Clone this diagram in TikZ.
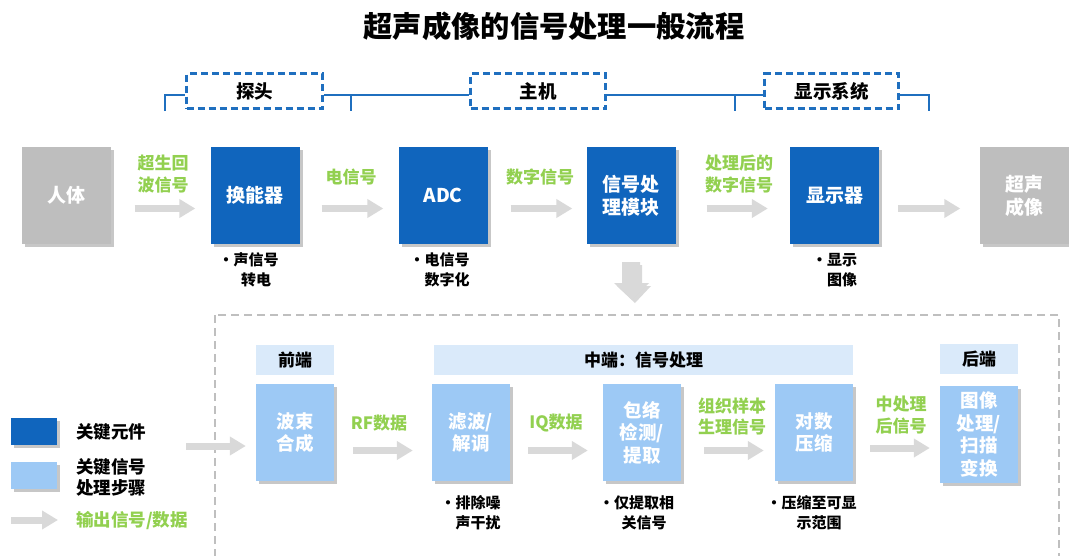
\documentclass[tikz,border=0pt]{standalone}
\usepackage{fontspec}
\setmainfont{Noto Sans CJK SC}
\usetikzlibrary{arrows.meta,shadows}
\definecolor{dkblue}{RGB}{16,101,189}
\definecolor{ltblue}{RGB}{157,201,245}
\definecolor{bandblue}{RGB}{218,234,250}
\definecolor{boxgray}{RGB}{190,190,190}
\definecolor{sgreen}{RGB}{146,208,80}
\definecolor{agray}{RGB}{217,217,217}
\definecolor{rgray}{RGB}{191,191,191}
\definecolor{brblue}{RGB}{31,111,191}
\newcommand{\fs}[2]{\fontsize{#1}{#2}\selectfont}
\tikzset{
  x=1pt, y=-1pt,
  shd/.style={drop shadow={shadow xshift=3pt, shadow yshift=-3pt, fill=black, opacity=0.22}},
  dkbox/.style={shd, fill=dkblue, minimum width=89pt, minimum height=97pt, text=white, align=center, inner sep=0pt, font=\bfseries\fs{19}{23}},
  gybox/.style={dkbox, fill=boxgray},
  ltbox/.style={shd, fill=ltblue, minimum width=78pt, minimum height=97pt, text=white, align=center, inner sep=0pt, font=\bfseries\fs{18.5}{22.5}},
  band/.style={fill=bandblue, minimum height=30pt, inner sep=0pt, font=\bfseries\fs{17}{21}},
  glabel/.style={text=sgreen, align=center, inner sep=0pt, font=\bfseries\fs{17}{21.5}},
  desc/.style={align=center, inner sep=0pt, font=\bfseries\fs{15}{20}},
  dlabel/.style={draw=brblue, line width=2.5pt, dash pattern=on 7pt off 4pt, minimum height=35pt, inner sep=0pt, font=\bfseries\fs{18.5}{22}},
  bracket/.style={draw=brblue, line width=2pt},
  garrow/.style={draw=agray, line width=7pt, -{Triangle[length=16pt,width=18pt]}},
  legtext/.style={anchor=west, align=left, inner sep=0pt, font=\bfseries\fs{17.5}{21}},
}
\begin{document}
\begin{tikzpicture}
\useasboundingbox (0,0) rectangle (1069,555);

% title
\node[inner sep=0pt, font=\bfseries\fs{29.3}{34}] (title) at (554,26) {超声成像的信号处理一般流程};

% dashed group labels
\node[dlabel, minimum width=136pt] (tantou) at (254.5,91) {探头};
\node[dlabel, minimum width=135pt] (zhuji) at (538,91) {主机};
\node[dlabel, minimum width=134pt] (xsxt) at (831.5,91) {显示系统};

% brackets
\draw[bracket] (165,111) |- ([yshift=-4pt]tantou.west);
\draw[bracket] ([yshift=-4pt]tantou.east) -- ([yshift=-4pt]zhuji.west);
\draw[bracket] (351,95) -- (351,111);
\draw[bracket] ([yshift=-4pt]zhuji.east) -- ([yshift=-4pt]xsxt.west);
\draw[bracket] (735,95) -- (735,111);
\draw[bracket] ([yshift=-4pt]xsxt.east) -| (929,111);

% top row
\node[gybox] (renti) at (66,195.5) {人体};
\node[dkbox] (hnq) at (255,195.5) {换能器};
\node[dkbox] (adc) at (443,195.5) {ADC};
\node[dkbox] (xhcl) at (631,195.5) {信号处\\理模块};
\node[dkbox] (xsq) at (834.5,195.5) {显示器};
\node[gybox] (cscx) at (1024,195.5) {超声\\成像};

\draw[garrow, shorten <=24pt, shorten >=15pt] ([yshift=-13pt]renti.east) -- ([yshift=-13pt]hnq.west);
\draw[garrow, shorten <=22pt, shorten >=15pt] ([yshift=-13pt]hnq.east) -- ([yshift=-13pt]adc.west);
\draw[garrow, shorten <=23pt, shorten >=14pt] ([yshift=-13pt]adc.east) -- ([yshift=-13pt]xhcl.west);
\draw[garrow, shorten <=31pt, shorten >=22pt] ([yshift=-13pt]xhcl.east) -- ([yshift=-13pt]xsq.west);
\draw[garrow, shorten <=19pt, shorten >=19pt] ([yshift=-13pt]xsq.east) -- ([yshift=-13pt]cscx.west);

\node[glabel] (l1) at (163,174) {超生回\\波信号};
\node[glabel] (l2) at (351,177) {电信号};
\node[glabel] (l3) at (540,177) {数字信号};
\node[glabel] (l4) at (739,174) {处理后的\\数字信号};

\node[desc] (d1) at (256,270) {\llap{・}声信号\\转电};
\node[desc] (d2) at (447,270) {\llap{・}电信号\\数字化};
\node[desc] (d3) at (842,270) {\llap{・}显示\\图像};

% down block arrow
\fill[black, opacity=0.15] (625,265) -- (642,265) -- (642,286) -- (651,286) -- (635,303) -- (617,286) -- (625,286) -- cycle;
\fill[agray] (622,262) -- (640,262) -- (640,283) -- (649,283) -- (632,300) -- (614,283) -- (622,283) -- cycle;

% bottom dashed region
\draw[rgray, line width=2.5pt, dash pattern=on 8pt off 5pt] (215,315) rectangle (1059,575);

\node[band, minimum width=78pt] (qd) at (295,360) {前端};
\node[band, minimum width=419pt] (zd) at (643.5,360) {中端：信号处理};
\node[band, minimum width=78pt] (hd) at (979,359) {后端};

\node[ltbox] (bs) at (295,432.5) {波束\\合成};
\node[ltbox] (lb) at (471,432.5) {滤波/\\解调};
\node[ltbox] (bl) at (642,432.5) {包络\\检测/\\提取};
\node[ltbox] (ds) at (814,432.5) {对数\\压缩};
\node[ltbox] (tx) at (979,434.5) {图像\\处理/\\扫描\\变换};

\coordinate (inS) at (186,446);
\draw[garrow, shorten >=10pt] (inS) -- (inS -| bs.west);
\draw[garrow, shorten <=19pt, shorten >=19pt] ([yshift=-18pt]bs.east) -- ([yshift=-18pt]lb.west);
\draw[garrow, shorten <=18pt, shorten >=15pt] ([yshift=-18pt]lb.east) -- ([yshift=-18pt]bl.west);
\draw[garrow, shorten <=23pt, shorten >=11pt] ([yshift=-18pt]bl.east) -- ([yshift=-18pt]ds.west);
\draw[garrow, shorten <=17pt, shorten >=10pt] ([yshift=-15.5pt]ds.east) -- ([yshift=-15.5pt]ds.east -| tx.west);

\node[glabel] (l5) at (379,423) {RF数据};
\node[glabel] (l6) at (556,423) {IQ数据};
\node[glabel] (l7) at (732,416.5) {组织样本\\生理信号};
\node[glabel] (l8) at (901,415) {中处理\\后信号};

\node[desc] (d4) at (478,513) {\llap{・}排除噪\\声干扰};
\node[desc] (d5) at (644,513) {\llap{・}仅提取相\\关信号};
\node[desc] (d6) at (819,513) {\llap{・}压缩至可显\\示范围};

% legend
\node[shd, fill=dkblue, minimum width=46pt, minimum height=27pt, inner sep=0pt] (lg1) at (34,431.5) {};
\node[shd, fill=ltblue, minimum width=46pt, minimum height=27pt, inner sep=0pt] (lg2) at (34,475.5) {};
\coordinate (lgA) at (11,520);
\coordinate (lgB) at (58,520);
\draw[garrow] (lgA) -- (lgB);
\node[legtext] (lt1) at (76,432) {关键元件};
\node[legtext] (lt2) at (76,477) {关键信号\\处理步骤};
\node[legtext, text=sgreen] (lt3) at (76,521) {输出信号/数据};
\end{tikzpicture}
\end{document}
